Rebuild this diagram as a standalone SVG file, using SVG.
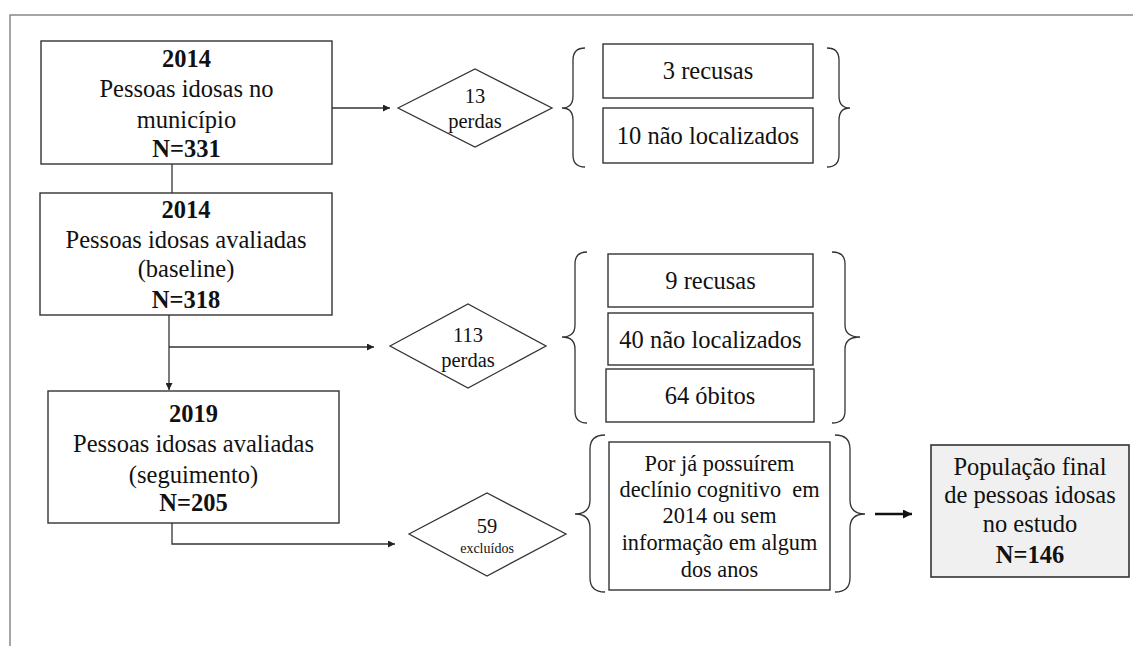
<svg xmlns="http://www.w3.org/2000/svg" width="1133" height="646" viewBox="0 0 1133 646">
<defs>
<style>
.box{fill:#fff;stroke:#333;stroke-width:1.4}
.fin{fill:#f0f0f0;stroke:#333;stroke-width:1.6}
.ln{fill:none;stroke:#333;stroke-width:1.3}
.br{fill:none;stroke:#333;stroke-width:1.3}
text{fill:#111;text-anchor:middle;font-family:"Liberation Serif","Times New Roman",serif}
.t{font-size:24.5px}
.b{font-size:24.5px;font-weight:bold}
.d{font-size:20.5px}
.s{font-size:14px}
.m{font-size:22.3px}
</style>
<marker id="ah" viewBox="0 0 10 10" refX="10" refY="5" markerWidth="7" markerHeight="7" markerUnits="userSpaceOnUse" orient="auto"><path d="M0,0 L10,5 L0,10 z" fill="#222"/></marker>
<marker id="ahb" viewBox="0 0 10 10" refX="10" refY="5" markerWidth="9" markerHeight="9" markerUnits="userSpaceOnUse" orient="auto"><path d="M0,0 L10,5 L0,10 z" fill="#111"/></marker>
</defs>
<rect width="1133" height="646" fill="#fff"/>
<path d="M10,646 L10,15 L1133,15" fill="none" stroke="#888" stroke-width="1.5"/>

<g id="connectors">
<line class="ln" x1="332" y1="108" x2="390" y2="108" marker-end="url(#ah)"/>
<line class="ln" x1="172" y1="164" x2="172" y2="193"/>
<line class="ln" x1="169" y1="315" x2="169" y2="390" marker-end="url(#ah)"/>
<line class="ln" x1="169" y1="347" x2="374" y2="347" marker-end="url(#ah)"/>
<polyline class="ln" points="172,523 172,544 395,544" marker-end="url(#ah)"/>
<line x1="875" y1="514" x2="912" y2="514" stroke="#111" stroke-width="2.6" marker-end="url(#ahb)"/>
</g>

<g id="n1">
<rect class="box" x="41" y="41" width="291" height="123"/>
<text class="b" x="186.5" y="67">2014</text>
<text class="t" x="186.5" y="97">Pessoas idosas no</text>
<text class="t" x="186.5" y="128">município</text>
<text class="b" x="186.5" y="157">N=331</text>
</g>

<g id="d1">
<polygon class="ln" points="398,108 475,69 552,108 475,147"/>
<text class="d" x="475" y="103">13</text>
<text class="d" x="475" y="128">perdas</text>
</g>

<g id="brace1">
<path class="br" d="M585,48 Q573,48 573,60 L573,96 Q573,108 562,108 Q573,108 573,120 L573,155 Q573,167 585,167"/>
<path class="br" d="M827,48 Q839,48 839,60 L839,96 Q839,108 850,108 Q839,108 839,120 L839,155 Q839,167 827,167"/>
</g>
<g id="r1"><rect class="box" x="603" y="44" width="210" height="54"/><text class="t" x="708" y="79">3 recusas</text></g>
<g id="r2"><rect class="box" x="603" y="108" width="210" height="55"/><text class="t" x="708" y="144">10 não localizados</text></g>

<g id="n2">
<rect class="box" x="40" y="193" width="292" height="122"/>
<text class="b" x="186" y="218">2014</text>
<text class="t" x="186" y="248">Pessoas idosas avaliadas</text>
<text class="t" x="186" y="277">(baseline)</text>
<text class="b" x="186" y="308">N=318</text>
</g>

<g id="d2">
<polygon class="ln" points="390,346 468,304 546,346 468,388"/>
<text class="d" x="468" y="342">113</text>
<text class="d" x="468" y="367">perdas</text>
</g>

<g id="brace2">
<path class="br" d="M587,252 Q575,252 575,264 L575,325 Q575,337 562,337 Q575,337 575,349 L575,411 Q575,423 587,423"/>
<path class="br" d="M832,252 Q845,252 845,264 L845,325 Q845,337 860,337 Q845,337 845,349 L845,411 Q845,423 832,423"/>
</g>
<g id="r3"><rect class="box" x="608" y="254" width="205" height="53"/><text class="t" x="710.5" y="289">9 recusas</text></g>
<g id="r4"><rect class="box" x="608" y="313" width="205" height="52"/><text class="t" x="710.5" y="348">40 não localizados</text></g>
<g id="r5"><rect class="box" x="606" y="369" width="208" height="53"/><text class="t" x="710" y="404">64 óbitos</text></g>

<g id="n3">
<rect class="box" x="48" y="391" width="291" height="132"/>
<text class="b" x="193.5" y="422">2019</text>
<text class="t" x="193.5" y="452">Pessoas idosas avaliadas</text>
<text class="t" x="193.5" y="483">(seguimento)</text>
<text class="b" x="193.5" y="511">N=205</text>
</g>

<g id="d3">
<polygon class="ln" points="409,534 487,493 566,534 487,576"/>
<text class="d" x="487" y="533">59</text>
<text class="s" x="487" y="553">excluídos</text>
</g>

<g id="brace3">
<path class="br" d="M605,435 Q590,435 590,449 L590,500 Q590,514 575,514 Q590,514 590,528 L590,578 Q590,592 605,592"/>
<path class="br" d="M835,435 Q850,435 850,449 L850,500 Q850,514 865,514 Q850,514 850,528 L850,578 Q850,592 835,592"/>
</g>
<g id="r6">
<rect class="box" x="609" y="442" width="221" height="148"/>
<text class="m" x="719.5" y="471">Por já possuírem</text>
<text class="m" x="719.5" y="497" xml:space="preserve">declínio cognitivo  em</text>
<text class="m" x="719.5" y="523">2014 ou sem</text>
<text class="m" x="719.5" y="550">informação em algum</text>
<text class="m" x="719.5" y="577">dos anos</text>
</g>

<g id="final">
<rect class="fin" x="931" y="445" width="198" height="132"/>
<text class="t" x="1030" y="475">População final</text>
<text class="t" x="1030" y="503">de pessoas idosas</text>
<text class="t" x="1030" y="532">no estudo</text>
<text class="b" x="1030" y="563">N=146</text>
</g>
</svg>
